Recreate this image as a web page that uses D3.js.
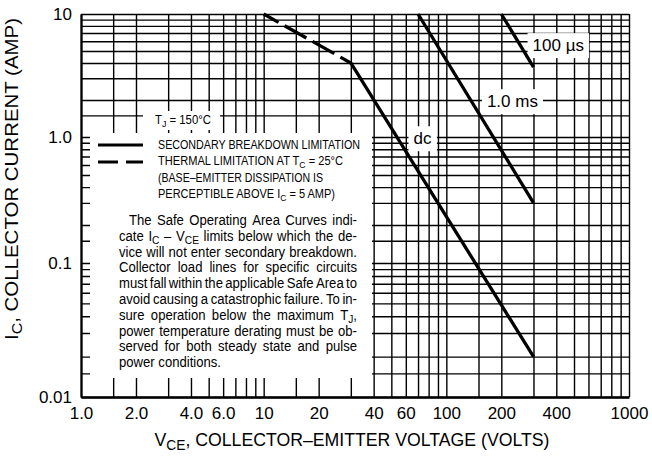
<!DOCTYPE html>
<html>
<head>
<meta charset="utf-8">
<script src="https://cdn.jsdelivr.net/npm/d3@7"></script>
<style>
  body { margin: 0; background: #fff; }
  svg { display: block; font-family: "Liberation Sans", Arial, Helvetica, sans-serif; }
</style>
</head>
<body>
<div id="chart"></div>
<script>
// --- Data ---
const xTickValues = [1, 2, 4, 6, 10, 20, 40, 60, 100, 200, 400, 1000];
const xTickLabels = ["1.0", "2.0", "4.0", "6.0", "10", "20", "40", "60", "100", "200", "400", "1000"];
const yTickValues = [10, 1, 0.1, 0.01];
const yTickLabels = ["10", "1.0", "0.1", "0.01"];

// grid lines inside each decade
const gridSteps = [1.5, 2, 3, 4, 5, 6, 7, 8, 9];
const xDecades = [1, 10, 100];
const yDecades = [0.01, 0.1, 1];

// curves: volts / amps
const thermalVolts = [10, 30];
const thermalAmps = [10, 4];
const dcVolts = [30, 300];
const dcAmps = [4, 0.02];
const ms1Volts = [70, 300];
const ms1Amps = [10, 0.3];
const us100Volts = [200, 300];
const us100Amps = [10, 3.7];

// curve labels
const curveLabels = ["dc", "1.0 ms", "100 µs"];
const curveLabelVolts = [74, 230, 410];
const curveLabelAmps = [0.98, 1.96, 5.6];

const legendLines = [
    "SECONDARY BREAKDOWN LIMITATION",
    "THERMAL LIMITATION AT T_{C} = 25°C",
    "(BASE–EMITTER DISSIPATION IS",
    "PERCEPTIBLE ABOVE I_{C} = 5 AMP)"
];

const paragraphLines = [
    "The Safe Operating Area Curves indi-",
    "cate I_{C} – V_{CE} limits below which the de-",
    "vice will not enter secondary breakdown.",
    "Collector load lines for specific circuits",
    "must fall within the applicable Safe Area to",
    "avoid causing a catastrophic failure. To in-",
    "sure operation below the maximum T_{J},",
    "power temperature derating must be ob-",
    "served for both steady state and pulse",
    "power conditions."
];

// --- Setup ---
const width = 652, height = 463;

const svg = d3.select("#chart").append("svg")
    .attr("width", width)
    .attr("height", height);

const x = d3.scaleLog().domain([1, 1000]).range([81, 629]);
// scanned sheet: decades are not quite even, so piecewise
const y = d3.scaleLog().domain([10, 1, 0.1, 0.01]).range([14, 137, 263, 397]);

const plotLeft = x(1), plotRight = x(1000), plotTop = y(10), plotBottom = y(0.01);

const xGrid = xDecades.flatMap(d => [d, ...gridSteps.map(s => s * d)]).concat([1000]);
const yGrid = yDecades.flatMap(d => [d, ...gridSteps.map(s => s * d)]).concat([10]);

// subscript helper: "I_{C}" -> I + lowered C
function rich(sel, str, size) {
    const parts = str.split(/(_\{[^}]*\})/).filter(p => p);
    let shifted = false;
    parts.forEach(p => {
        const sub = p.startsWith("_{");
        const ts = sel.append("tspan").text(sub ? p.slice(2, -1) : p);
        if (sub) ts.attr("font-size", size * 0.78).attr("dy", size * 0.2);
        else if (shifted) ts.attr("dy", -size * 0.2);
        shifted = sub;
    });
    return sel;
}

// --- Grid ---
svg.append("g")
    .attr("transform", `translate(0,${plotBottom})`)
    .call(d3.axisBottom(x).tickValues(xGrid).tickSize(-(plotBottom - plotTop)).tickFormat(""))
    .call(g => g.select(".domain").remove())
    .call(g => g.selectAll("line").attr("stroke", "#000").attr("stroke-width", 1.4));

svg.append("g")
    .attr("transform", `translate(${plotLeft},0)`)
    .call(d3.axisLeft(y).tickValues(yGrid).tickSize(-(plotRight - plotLeft)).tickFormat(""))
    .call(g => g.select(".domain").remove())
    .call(g => g.selectAll("line").attr("stroke", "#000").attr("stroke-width", 1.4));

// --- White panels over the grid ---
svg.append("rect")
    .attr("x", 90).attr("y", 133)
    .attr("width", 282).attr("height", 245)
    .attr("fill", "#fff");

svg.append("rect")
    .attr("x", 143).attr("y", 111)
    .attr("width", 77).attr("height", 19)
    .attr("fill", "#fff");

const labelText = svg.append("g")
    .attr("font-size", 17)
    .attr("text-anchor", "middle");

const labels = labelText.selectAll("text")
    .data(curveLabels)
    .enter().append("text")
    .attr("x", (d, i) => x(curveLabelVolts[i]))
    .attr("y", (d, i) => y(curveLabelAmps[i]))
    .attr("dy", "0.36em")
    .text(d => d);

labels.each(function () {
    const b = this.getBBox();
    svg.insert("rect", "g.curves")
        .attr("x", b.x - 5).attr("y", b.y - 3)
        .attr("width", b.width + 10).attr("height", b.height + 6)
        .attr("fill", "#fff");
});
labelText.raise();

// --- Curves ---
const line = d3.line().x(d => x(d[0])).y(d => y(d[1]));
const curves = svg.append("g").attr("class", "curves")
    .attr("fill", "none")
    .attr("stroke", "#000")
    .attr("stroke-width", 3.3);

curves.append("path")
    .attr("d", line(d3.zip(thermalVolts, thermalAmps)))
    .attr("stroke-dasharray", "25,7")
    .attr("stroke-dashoffset", 8);

[[dcVolts, dcAmps], [ms1Volts, ms1Amps], [us100Volts, us100Amps]].forEach(([v, a]) => {
    curves.append("path").attr("d", line(d3.zip(v, a)));
});

labelText.raise();

// --- Axes ---
svg.append("g")
    .attr("transform", `translate(0,${plotBottom})`)
    .call(d3.axisBottom(x).tickValues(xTickValues).tickFormat((d, i) => xTickLabels[i])
        .tickSize(0).tickPadding(10))
    .call(g => g.select(".domain").attr("stroke", "#000").attr("stroke-width", 2.6))
    .call(g => g.selectAll("text").attr("font-size", 17).attr("fill", "#000"));

svg.append("g")
    .attr("transform", `translate(${plotLeft},0)`)
    .call(d3.axisLeft(y).tickValues(yTickValues).tickFormat((d, i) => yTickLabels[i])
        .tickSize(0).tickPadding(9))
    .call(g => g.select(".domain").attr("stroke", "#000").attr("stroke-width", 2.2))
    .call(g => g.selectAll("text").attr("font-size", 17).attr("fill", "#000"));

svg.selectAll(".tick text").attr("font-family", "Liberation Sans, Arial, sans-serif");

// Axis titles
rich(svg.append("text")
    .attr("x", 352)
    .attr("y", 446)
    .attr("text-anchor", "middle")
    .attr("font-size", 18)
    .attr("textLength", 395)
    .attr("lengthAdjust", "spacingAndGlyphs"),
    "V_{CE}, COLLECTOR–EMITTER VOLTAGE (VOLTS)", 18);

rich(svg.append("text")
    .attr("transform", "translate(18,179) rotate(-90)")
    .attr("text-anchor", "middle")
    .attr("font-size", 18)
    .attr("textLength", 322)
    .attr("lengthAdjust", "spacingAndGlyphs"),
    "I_{C}, COLLECTOR CURRENT (AMP)", 18);

// --- Legend ---
rich(svg.append("text")
    .attr("x", 155).attr("y", 124)
    .attr("font-size", 12.5)
    .attr("textLength", 56)
    .attr("lengthAdjust", "spacingAndGlyphs"),
    "T_{J} = 150°C", 12.5);

svg.append("line")
    .attr("x1", 98).attr("x2", 143).attr("y1", 145).attr("y2", 145)
    .attr("stroke", "#000").attr("stroke-width", 3);

svg.append("line")
    .attr("x1", 98).attr("x2", 143).attr("y1", 162).attr("y2", 162)
    .attr("stroke", "#000").attr("stroke-width", 3)
    .attr("stroke-dasharray", "20,8");

const legendWidths = [202, 185, 165, 177];
legendLines.forEach((t, i) => {
    rich(svg.append("text")
        .attr("x", 158)
        .attr("y", 149 + i * 16.4)
        .attr("font-size", 12.5)
        .attr("textLength", legendWidths[i])
        .attr("lengthAdjust", "spacingAndGlyphs"),
        t, 12.5);
});

// --- Justified note paragraph ---
const paraLeft = 119, paraRight = 357, paraIndent = 10;
const paraTop = 225, paraStep = 15.8, paraSize = 14.5;
const para = svg.append("g").attr("font-size", paraSize);

const rows = paragraphLines.map((ln, i) => {
    const g = para.append("g");
    const words = ln.split(" ").map(w => {
        const t = rich(g.append("text"), w, paraSize);
        return { t, w: t.node().getComputedTextLength() };
    });
    return { g, words, indent: i === 0 ? paraIndent : 0, last: i === paragraphLines.length - 1 };
});

// squeeze all lines by the same amount so the tightest one still fits
let k = 1;
rows.filter(r => !r.last).forEach(r => {
    const need = d3.sum(r.words, d => d.w) + (r.words.length - 1) * 2.6;
    k = Math.min(k, (paraRight - paraLeft - r.indent) / need);
});

rows.forEach((r, i) => {
    r.g.attr("transform", `translate(${paraLeft + r.indent},${paraTop + i * paraStep}) scale(${k},1)`);
    const avail = (paraRight - paraLeft - r.indent) / k;
    const total = d3.sum(r.words, d => d.w);
    const gap = r.last ? paraSize * 0.278 : (avail - total) / (r.words.length - 1);
    let cx = 0;
    r.words.forEach(d => {
        d.t.attr("x", cx);
        cx += d.w + gap;
    });
});
</script>
</body>
</html>
